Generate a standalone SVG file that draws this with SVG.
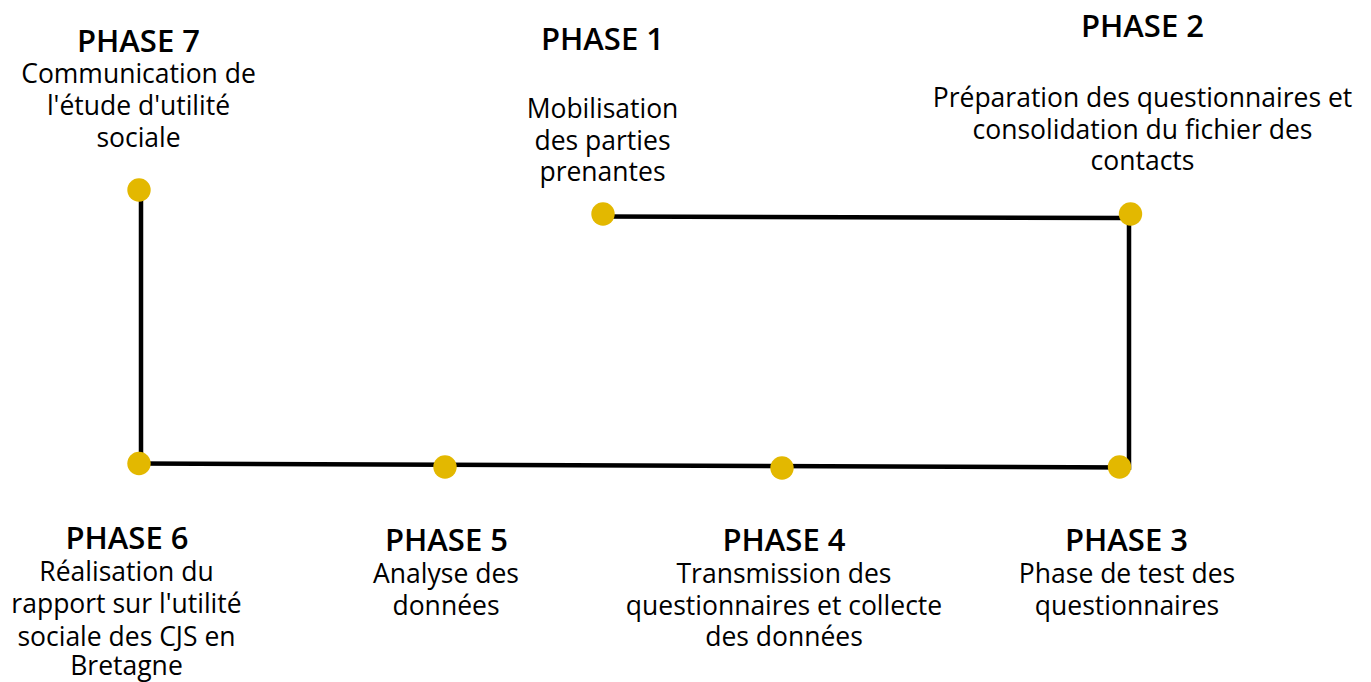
<svg xmlns="http://www.w3.org/2000/svg" width="1371" height="682" viewBox="0 0 1371 682">
<style>
  .bg { fill: #ffffff; }
  .h { font-family: "Open Sans", "Noto Sans", sans-serif; font-weight: 600; font-size: 31px; fill: #000; text-anchor: middle; }
  .t { font-family: "Open Sans", "Noto Sans", sans-serif; font-weight: 400; font-size: 26.5px; fill: #000; text-anchor: middle; }
  .dot { fill: #E3B800; }
  .ln { stroke: #000; stroke-width: 4.5; fill: none; stroke-linejoin: miter; }
</style>
<rect class="bg" x="0" y="0" width="1371" height="682"/>
<g id="connectors">
  <polyline class="ln" points="603,216.5 1129,218 1129,467.5 139,463.5"/>
  <line class="ln" x1="141" y1="190" x2="141" y2="463.5"/>
</g>
<g id="phase1">
  <circle class="dot" cx="603" cy="214" r="11.7"/>
  <text class="h" x="602.5" y="50">PHASE 1</text>
  <text class="t" x="602.5" y="118">Mobilisation</text>
  <text class="t" x="602.5" y="150">des parties</text>
  <text class="t" x="602.5" y="181">prenantes</text>
</g>
<g id="phase2">
  <circle class="dot" cx="1130.5" cy="214" r="11.7"/>
  <text class="h" x="1142.5" y="37">PHASE 2</text>
  <text class="t" x="1142.5" y="107">Préparation des questionnaires et</text>
  <text class="t" x="1142.5" y="139">consolidation du fichier des</text>
  <text class="t" x="1142.5" y="170">contacts</text>
</g>
<g id="phase3">
  <circle class="dot" cx="1119.5" cy="467" r="11.7"/>
  <text class="h" x="1126.5" y="551">PHASE 3</text>
  <text class="t" x="1127" y="583">Phase de test des</text>
  <text class="t" x="1127" y="615">questionnaires</text>
</g>
<g id="phase4">
  <circle class="dot" cx="782" cy="468" r="11.7"/>
  <text class="h" x="784" y="551">PHASE 4</text>
  <text class="t" x="784" y="583">Transmission des</text>
  <text class="t" x="784" y="615">questionnaires et collecte</text>
  <text class="t" x="784" y="646">des données</text>
</g>
<g id="phase5">
  <circle class="dot" cx="445" cy="467" r="11.7"/>
  <text class="h" x="446.5" y="551">PHASE 5</text>
  <text class="t" x="446" y="583">Analyse des</text>
  <text class="t" x="446" y="615">données</text>
</g>
<g id="phase6">
  <circle class="dot" cx="139" cy="463.5" r="11.7"/>
  <text class="h" x="127" y="549">PHASE 6</text>
  <text class="t" x="126.5" y="581">Réalisation du</text>
  <text class="t" x="126.5" y="613">rapport sur l'utilité</text>
  <text class="t" x="126.5" y="646">sociale des CJS en</text>
  <text class="t" x="126.5" y="675">Bretagne</text>
</g>
<g id="phase7">
  <circle class="dot" cx="139" cy="190" r="11.7"/>
  <text class="h" x="138.5" y="52">PHASE 7</text>
  <text class="t" x="138.5" y="83">Communication de</text>
  <text class="t" x="138.5" y="115">l'étude d'utilité</text>
  <text class="t" x="138.5" y="147">sociale</text>
</g>
</svg>
